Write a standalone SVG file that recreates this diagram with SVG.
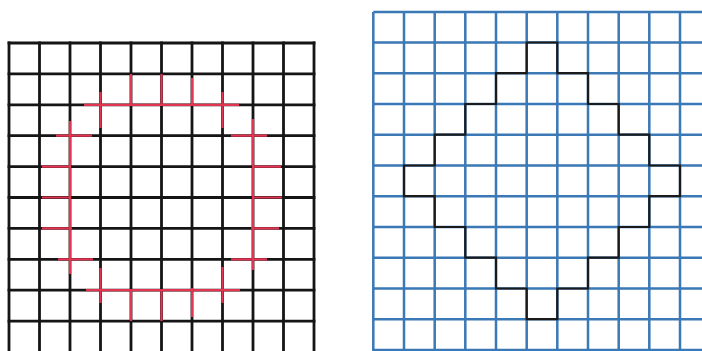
<svg xmlns="http://www.w3.org/2000/svg" width="702" height="351" viewBox="0 0 702 351">
  <style>
    .bk { stroke: #151515; stroke-width: 2.8; fill: none; stroke-linecap: square; }
    .rd { stroke: #e23552; stroke-width: 2.2; fill: none; stroke-linecap: butt; }
    .bl { stroke: #3a78b6; stroke-width: 2.5; fill: none; }
    .st { stroke: #1a1a1a; stroke-width: 2.2; fill: none; stroke-linejoin: miter; }
  </style>
  <rect width="702" height="351" fill="#ffffff"/>

  <g id="left-grid">
    <path class="bk" d="M9 43V360 M39.5 43V360 M70 43V360 M100.5 43V360 M131 43V360 M161.5 43V360 M192 43V360 M222.5 43V360 M253 43V360 M283.5 43V360 M314 43V360"/>
    <path class="bk" d="M9 43H314 M9 73.9H314 M9 104.8H314 M9 135.7H314 M9 166.6H314 M9 197.5H314 M9 228.4H314 M9 259.3H314 M9 290.2H314 M9 321.1H314"/>
  </g>

  <g id="left-red-marks">
    <path class="rd" d="M84 104.8H239 M100.5 92V128 M131 74V104.8 M161.5 74V104.8 M192 78V104.8 M222.5 92V128"/>
    <path class="rd" d="M56 135.7H92 M70 121V274 M42 166.6H70 M42 197.5H70 M42 228.4H72 M58 259.3H93"/>
    <path class="rd" d="M231 135.7H267 M253 119V270 M253 166.6H281 M253 197.5H282 M251 228.4H279 M231 259.3H267"/>
    <path class="rd" d="M86 290.2H240 M100.5 268V303 M131 290.2V321.1 M161.5 290.2V321.1 M192 288V317 M222.5 267V303"/>
  </g>

  <g id="right-grid">
    <path class="bl" d="M373.3 12V352 M404 12V352 M434.7 12V352 M465.3 12V352 M496 12V352 M526.7 12V352 M557.3 12V352 M588 12V352 M618.7 12V352 M649.3 12V352 M680 12V352"/>
    <path class="bl" d="M373.3 12H703 M373.3 42.5H703 M373.3 73.2H703 M373.3 104H703 M373.3 134.7H703 M373.3 165.5H703 M373.3 196.2H703 M373.3 227H703 M373.3 257.7H703 M373.3 288.5H703 M373.3 319.2H703 M373.3 350H703"/>
  </g>

  <g id="right-staircase">
    <path class="st" d="M526.7 42.5H557.3V73.2H588V104H618.7V134.7H649.3V165.5H680V196.2H649.3V227H618.7V257.7H588V288.5H557.3V319.2H526.7V288.5H496V257.7H465.3V227H434.7V196.2H404V165.5H434.7V134.7H465.3V104H496V73.2H526.7Z"/>
  </g>
</svg>
